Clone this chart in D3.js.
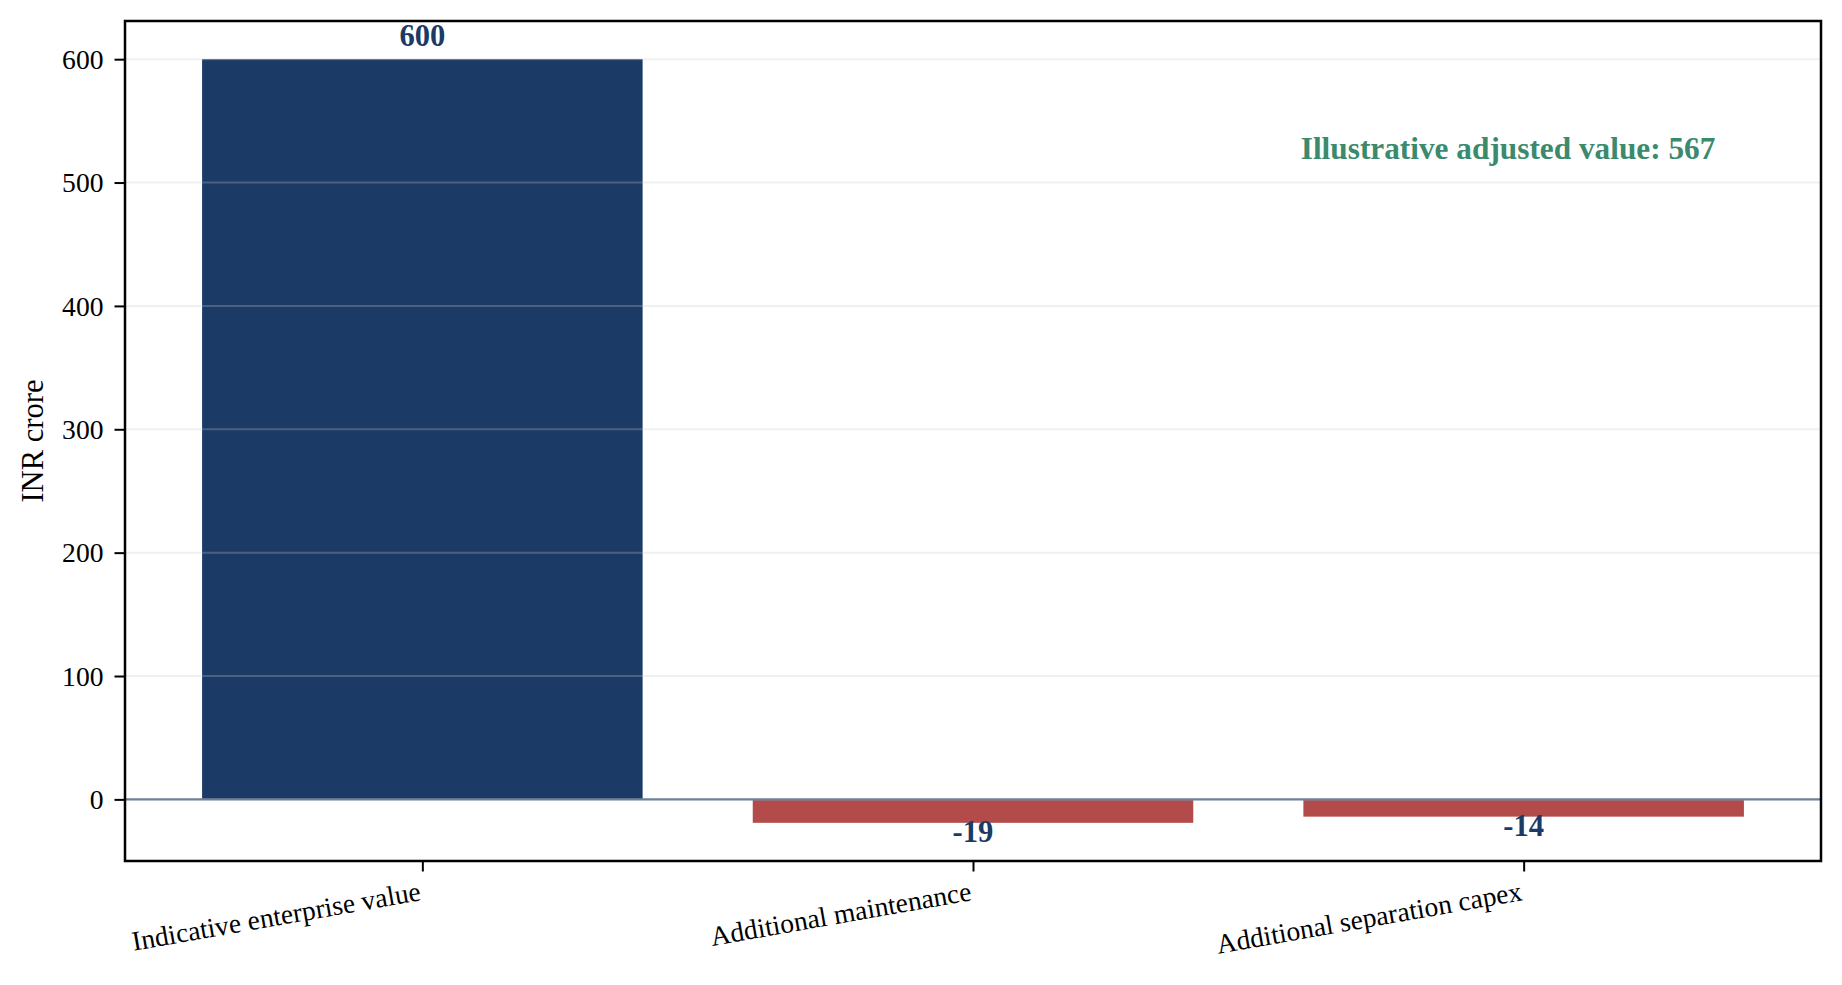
<!DOCTYPE html>
<html>
<head>
<meta charset="utf-8">
<script src="https://cdn.jsdelivr.net/npm/d3@7"></script>
<style>
  html, body { margin: 0; padding: 0; background: #ffffff; }
  svg { display: block; }
  text { font-family: "Liberation Serif", "Times New Roman", serif; }
</style>
</head>
<body>
<script>
// ---- data ----
const categories = ["Indicative enterprise value", "Additional maintenance", "Additional separation capex"];
const values = [600, -19, -14];
const yTickValues = [0, 100, 200, 300, 400, 500, 600];
const yLabel = "INR crore";
const annotationText = "Illustrative adjusted value: 567";

// ---- layout ----
const W = 1842, H = 985;
const margin = { left: 125, right: W - 1821, top: 21, bottom: H - 861 };
const navy = "#1b3a66", red = "#b34b4b", green = "#3b8a6e";
const tickFont = 27.6;

const svg = d3.select("body").append("svg").attr("width", W).attr("height", H);
svg.append("rect").attr("width", W).attr("height", H).attr("fill", "#fff");

const iw = W - margin.left - margin.right, ih = H - margin.top - margin.bottom;
const g = svg.append("g").attr("transform", `translate(${margin.left},${margin.top})`);

const idx = categories.map((d, i) => i);
const barW = 0.8;
const xpad = 0.05 * (idx.length - 1 + barW);
const x = d3.scaleLinear().domain([-barW / 2 - xpad, idx.length - 1 + barW / 2 + xpad]).range([0, iw]);
const ymin = Math.min(0, d3.min(values)), ymax = Math.max(0, d3.max(values));
const ypad = 0.05 * (ymax - ymin);
const y = d3.scaleLinear().domain([ymin - ypad, ymax + ypad]).range([ih, 0]);

// bars
g.selectAll("rect.bar").data(values).join("rect")
  .attr("class", "bar")
  .attr("x", (d, i) => x(i - barW / 2))
  .attr("width", (d, i) => x(i + barW / 2) - x(i - barW / 2))
  .attr("y", d => y(Math.max(0, d)))
  .attr("height", d => Math.abs(y(d) - y(0)))
  .attr("fill", d => d >= 0 ? navy : red);

// grid (drawn over bars, semi-transparent)
g.selectAll("line.grid").data(yTickValues).join("line")
  .attr("class", "grid")
  .attr("x1", 0).attr("x2", iw)
  .attr("y1", d => y(d)).attr("y2", d => y(d))
  .attr("stroke", "#c8c8c8").attr("stroke-opacity", 0.27).attr("stroke-width", 2);

// zero line
g.append("line")
  .attr("x1", 0).attr("x2", iw).attr("y1", y(0)).attr("y2", y(0))
  .attr("stroke", "#6f8099").attr("stroke-width", 2.2);

// value labels
g.selectAll("text.val").data(values).join("text")
  .attr("class", "val")
  .attr("x", (d, i) => x(i))
  .attr("y", d => d >= 0 ? y(d) - 13 : y(d) + 19)
  .attr("text-anchor", "middle")
  .attr("font-size", 30.6).attr("font-weight", "bold")
  .attr("fill", navy)
  .text(d => String(d));

// annotation
g.append("text")
  .attr("x", 0.8155 * iw)
  .attr("y", ih - 0.8357 * ih)
  .attr("text-anchor", "middle")
  .attr("font-size", 31.3).attr("font-weight", "bold")
  .attr("fill", green)
  .text(annotationText);

// axes
const yAxis = d3.axisLeft(y).tickValues(yTickValues).tickSize(10.5).tickPadding(11).tickFormat(d => String(d));
const yg = g.append("g").call(yAxis);
yg.select(".domain").remove();
yg.selectAll(".tick line").attr("stroke", "#000").attr("stroke-width", 2);
yg.selectAll(".tick text").attr("font-size", tickFont).attr("fill", "#000")
  .attr("font-family", "'Liberation Serif', 'Times New Roman', serif")
  .attr("dy", null).attr("y", 9.3);

const xAxis = d3.axisBottom(x).tickValues(idx).tickSize(10.5).tickFormat(i => categories[i]);
const xg = g.append("g").attr("transform", `translate(0,${ih})`).call(xAxis);
xg.select(".domain").remove();
xg.selectAll(".tick line").attr("stroke", "#000").attr("stroke-width", 2);
xg.selectAll(".tick text")
  .attr("font-size", tickFont).attr("fill", "#000")
  .attr("font-family", "'Liberation Serif', 'Times New Roman', serif")
  .attr("dy", null).attr("y", null)
  .attr("text-anchor", "end")
  .attr("transform", "translate(-1,39) rotate(-10)");

// frame
g.append("rect").attr("x", 0).attr("y", 0).attr("width", iw).attr("height", ih)
  .attr("fill", "none").attr("stroke", "#000").attr("stroke-width", 2.5);

// y label
svg.append("text")
  .attr("transform", `translate(43,${margin.top + ih / 2}) rotate(-90)`)
  .attr("text-anchor", "middle")
  .attr("font-size", 30.6).attr("fill", "#000")
  .text(yLabel);
</script>
</body>
</html>
